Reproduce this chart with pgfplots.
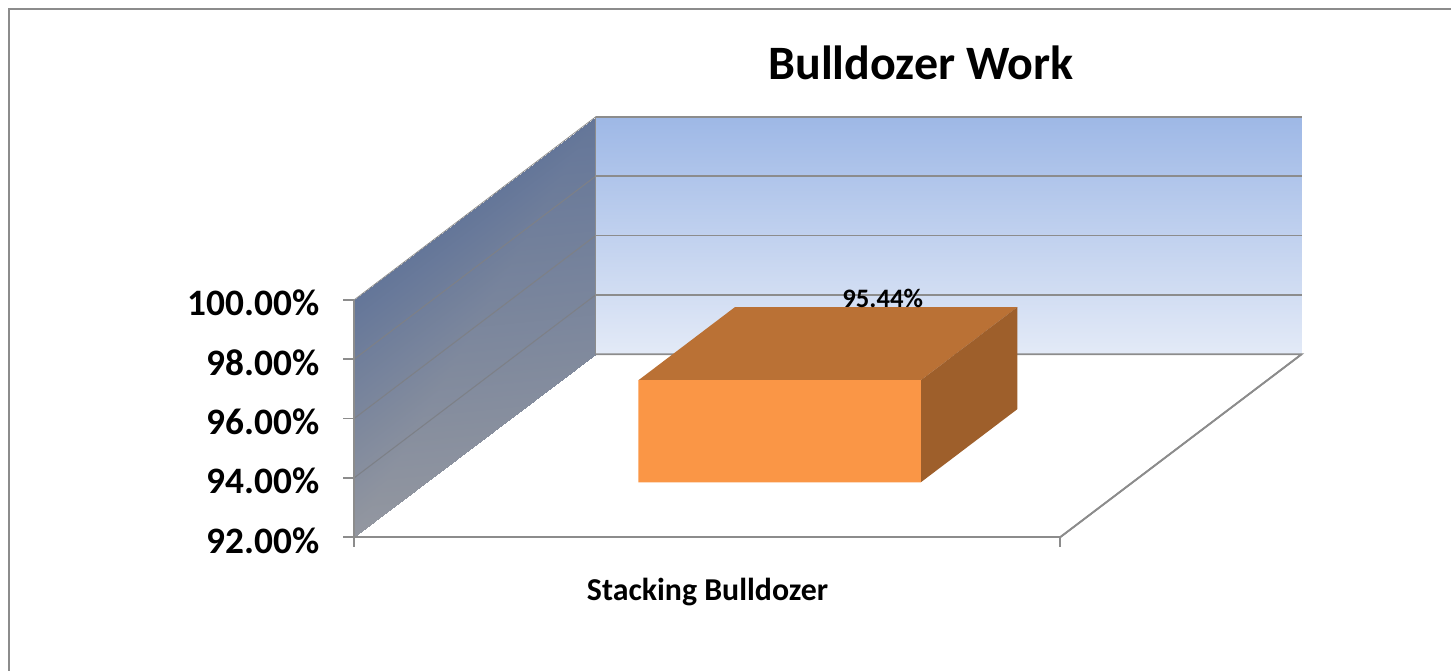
\documentclass[border=0pt]{standalone}
\usepackage{fontspec}
\setmainfont{Carlito}
\usepackage{pgfplots}
\pgfplotsset{compat=1.18}

\definecolor{axisgray}{RGB}{140,140,140}
\definecolor{wallgrid}{RGB}{125,128,135}
\definecolor{barfront}{RGB}{250,150,70}
\definecolor{bartop}{RGB}{186,113,53}
\definecolor{barside}{RGB}{158,95,43}

\begin{document}
\begin{tikzpicture}
% 1 px of the reference = 0.75pt; oblique projection through the unit vectors
\begin{axis}[
    x={(529.875pt,0pt)},
    y={(181.125pt,137.25pt)},
    z={(0pt,22.266pt)},
    xmin=0, xmax=1,
    ymin=0, ymax=1,
    zmin=92, zmax=100,
    clip=false,
    axis on top,
    axis lines*=left,
    axis line style={axisgray, line width=1.3pt},
    major tick length=0pt, % the skewed ticks are replaced by short plots below
    xtick={0,1}, xticklabels={,},
    ytick=\empty,
    ztick={92,94,96,98,100},
    zticklabel={\pgfmathprintnumber[fixed,fixed zerofill,precision=2,assume math mode=true]{\tick}\%},
    z tick label style={font=\fontsize{28pt}{30pt}\selectfont\bfseries, anchor=east, xshift=-22.4pt, yshift=-2.5pt},
    title={Bulldozer Work},
    title style={font=\fontsize{36pt}{38pt}\selectfont\bfseries, at={(axis cs:0.8027,0,107.71)}, anchor=center},
    xlabel={Stacking Bulldozer},
    xlabel style={font=\fontsize{23.9pt}{26pt}\selectfont\bfseries, at={(axis cs:0.5004,0,90.16)}, anchor=center},
]
% back wall
\addplot3[surf, shader=interp, mesh/rows=2, point meta=explicit, point meta rel=per plot,
    colormap={backwall}{rgb255=(227,234,247) rgb255=(158,184,230)}] coordinates {
    (0,1,92) [0] (1,1,92) [0]

    (0,1,100) [1] (1,1,100) [1]
};
% side wall
\addplot3[surf, shader=interp, mesh/rows=2, point meta=explicit, point meta rel=per plot,
    colormap={sidewall}{rgb255=(100,118,153) rgb255=(147,151,160)}] coordinates {
    (0,0,92) [1] (0,1,92) [0.6]

    (0,0,100) [0] (0,1,100) [0]
};
% gridlines
\addplot3[axisgray, line width=1.3pt] coordinates {(0,1,94) (1,1,94)};
\addplot3[axisgray, line width=1.3pt] coordinates {(0,1,96) (1,1,96)};
\addplot3[axisgray, line width=1.3pt] coordinates {(0,1,98) (1,1,98)};
\addplot3[axisgray, line width=1.3pt] coordinates {(0,1,100) (1,1,100)};
\addplot3[wallgrid, line width=0.8pt] coordinates {(0,0,94) (0,1,94)};
\addplot3[wallgrid, line width=0.8pt] coordinates {(0,0,96) (0,1,96)};
\addplot3[wallgrid, line width=0.8pt] coordinates {(0,0,98) (0,1,98)};
\addplot3[axisgray, line width=0.6pt] coordinates {(0,0,100) (0,1,100) (0,1,92)};
% floor
\addplot3[axisgray, line width=1.3pt] coordinates {(0,1,92) (1,1,92) (1,0,92)};
% tick marks, horizontal on the value axis and vertical on the category axis
\addplot3[axisgray, line width=1.3pt] coordinates {(-0.0156,0,92) (0,0,92)};
\addplot3[axisgray, line width=1.3pt] coordinates {(-0.0156,0,94) (0,0,94)};
\addplot3[axisgray, line width=1.3pt] coordinates {(-0.0156,0,96) (0,0,96)};
\addplot3[axisgray, line width=1.3pt] coordinates {(-0.0156,0,98) (0,0,98)};
\addplot3[axisgray, line width=1.3pt] coordinates {(-0.0156,0,100) (0,0,100)};
\addplot3[axisgray, line width=1.3pt] coordinates {(0,0,92) (0,0,91.66)};
\addplot3[axisgray, line width=1.3pt] coordinates {(1,0,92) (1,0,91.66)};
% the bar, x and y from 0.3 to 0.7
\addplot3[fill=bartop, draw=none] coordinates {(0.3,0.3,95.44) (0.7,0.3,95.44) (0.7,0.7,95.44) (0.3,0.7,95.44) (0.3,0.3,95.44)};
\addplot3[fill=barside, draw=none] coordinates {(0.7,0.3,92) (0.7,0.7,92) (0.7,0.7,95.44) (0.7,0.3,95.44) (0.7,0.3,92)};
\addplot3[fill=barfront, draw=none] coordinates {(0.3,0.3,92) (0.7,0.3,92) (0.7,0.3,95.44) (0.3,0.3,95.44) (0.3,0.3,92)};
\node[font=\fontsize{20pt}{22pt}\selectfont\bfseries, xshift=4.9pt, yshift=6.6pt] at (axis cs:0.5,0.7,95.44) {95.44\%};
\coordinate (o) at (axis cs:0,0,92);
\end{axis}
% page extent and the chart area's top and left border
\path ([shift={(-265.875pt,403.125pt)}]o) coordinate (tl) rectangle +(1089pt,-503.25pt);
\draw[axisgray, line width=1.5pt] ([shift={(7pt,-503.25pt)}]tl) -- ([shift={(7pt,-6.8pt)}]tl) -- ([shift={(1089pt,-6.8pt)}]tl);
\end{tikzpicture}
\end{document}
